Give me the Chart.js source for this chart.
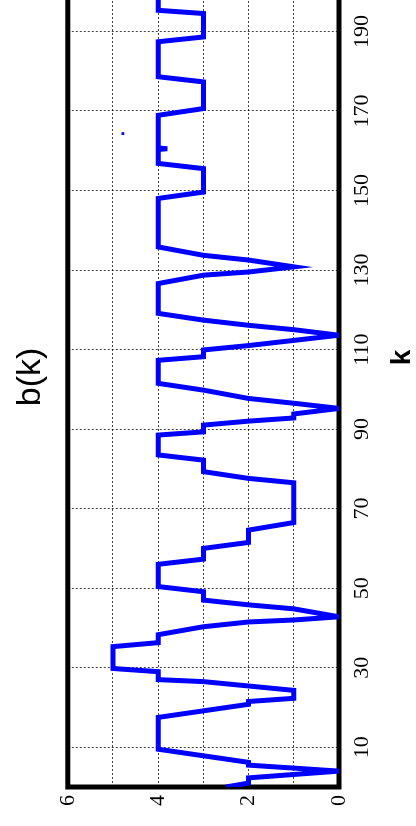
<!DOCTYPE html>
<html>
<head>
<meta charset="utf-8">
<script src="https://cdn.jsdelivr.net/npm/chart.js@4/dist/chart.umd.min.js"></script>
<style>
  html, body { margin: 0; padding: 0; background: #fff; width: 416px; height: 826px; overflow: hidden; }
  #wrap { position: absolute; left: 0; top: 0; width: 940px; height: 416px;
          transform-origin: 0 0; transform: translate(0px, 826px) rotate(-90deg); background: #fff; }
</style>
</head>
<body>
<div id="wrap"><canvas id="c" width="940" height="416"></canvas></div>
<script>
// ---- data (vertices of the b(k) curve) ----
const kValues = [0, 1, 2.3, 4, 5.5, 6.2, 9.5, 17.5, 20.8, 21.5, 22.3, 24.3, 26.5, 27, 29, 29.8, 35.3, 36.3, 38.3,
  40.3, 41.5, 42, 42.8, 44.8, 45.8, 47, 49.1, 50.4, 56, 57.3, 60, 61.5, 64.6, 66.5, 76.5, 77.6, 79.3, 82.2,
  83.5, 88.5, 89.3, 91, 92, 92.8, 93.8, 95.2, 96.5, 97.7, 99.8, 101.5, 107.3, 108.2, 109.9, 111, 112.3, 113.6,
  115, 116.1, 117.4, 119.1, 126.6, 128.7, 129.5, 130.8, 132.5, 133.7, 135.8, 148, 149.6, 155.5, 156.8,
  160.3, 160.5, 160.7, 168.9, 170.6, 177.3, 178.6, 187.4, 188.6, 194.5, 195.3, 200];
const bValues = [2.5, 2, 2, 0, 2, 2, 4, 4, 2, 2, 1, 1, 3, 4, 4, 5, 5, 4, 4,
  3, 2, 1, 0, 1, 2, 3, 3, 4, 4, 3, 3, 2, 2, 1, 1, 2, 3, 3,
  4, 4, 3, 3, 2, 1, 1, 0, 1, 2, 3, 4, 4, 3, 3, 2, 1, 0,
  1, 2, 3, 4, 4, 3, 2, 1, 2, 3, 4, 4, 3, 3, 4,
  4, 3.8, 4, 4, 3, 3, 4, 4, 3, 3, 4, 4];
// isolated point
const dotK = [164.3];
const dotB = [4.78];
// axis ticks
const kTicks = [10, 30, 50, 70, 90, 110, 130, 150, 170, 190];
const bTickLabels = [0, 2, 4, 6];

const boxPlugin = {
  id: 'box',
  beforeDatasetsDraw(chart) {
    const a = chart.chartArea, ctx = chart.ctx;
    ctx.save();
    ctx.lineWidth = 5;
    ctx.strokeStyle = '#000';
    ctx.strokeRect(a.left, a.top, a.right - a.left, a.bottom - a.top);
    ctx.restore();
  }
};

const gridCfg = { color: 'rgba(0,0,0,0.75)', lineWidth: 1, drawTicks: false };
const borderCfg = { display: false, dash: [2, 2] };

new Chart(document.getElementById('c'), {
  type: 'scatter',
  data: {
    datasets: [
      {
        data: kValues.map((k, i) => ({ x: k, y: bValues[i] })),
        showLine: true,
        borderColor: '#0000ff',
        backgroundColor: '#0000ff',
        borderWidth: 5,
        pointRadius: 0,
        tension: 0,
        borderJoinStyle: 'miter'
      },
      {
        data: dotK.map((k, i) => ({ x: k, y: dotB[i] })),
        showLine: false,
        pointStyle: 'rect',
        pointRadius: 2,
        borderWidth: 0,
        backgroundColor: '#0000ff'
      }
    ]
  },
  options: {
    responsive: false,
    animation: false,
    devicePixelRatio: 1,
    layout: { padding: { left: 0, right: 42, top: 0, bottom: 0 } },
    plugins: {
      legend: { display: false },
      tooltip: { enabled: false },
      title: {
        display: true, text: 'b(k)', color: '#000',
        font: { family: 'Liberation Sans', size: 34, weight: 'normal', lineHeight: 1.2 },
        padding: { top: 10, bottom: 17 }
      }
    },
    scales: {
      x: {
        type: 'linear', min: 0, max: 216, position: 'bottom',
        afterBuildTicks: s => { s.ticks = kTicks.map(v => ({ value: v })); },
        afterFit: s => { s.height = 77; },
        grid: gridCfg, border: borderCfg,
        ticks: { color: '#000', font: { family: 'Liberation Serif', size: 22 }, padding: 10, maxRotation: 0, autoSkip: false },
        title: { display: true, text: 'k', color: '#000', font: { family: 'Liberation Sans', size: 28, weight: 'bold', lineHeight: 1 }, padding: 0 }
      },
      y: {
        type: 'linear', min: 0, max: 6, position: 'left',
        afterFit: s => { s.width = 39; },
        grid: gridCfg, border: borderCfg,
        ticks: { stepSize: 1, color: '#000', font: { family: 'Liberation Serif', size: 22 }, padding: 8,
                 callback: v => bTickLabels.includes(v) ? String(v) : '' }
      }
    }
  },
  plugins: [boxPlugin]
});
</script>
</body>
</html>
